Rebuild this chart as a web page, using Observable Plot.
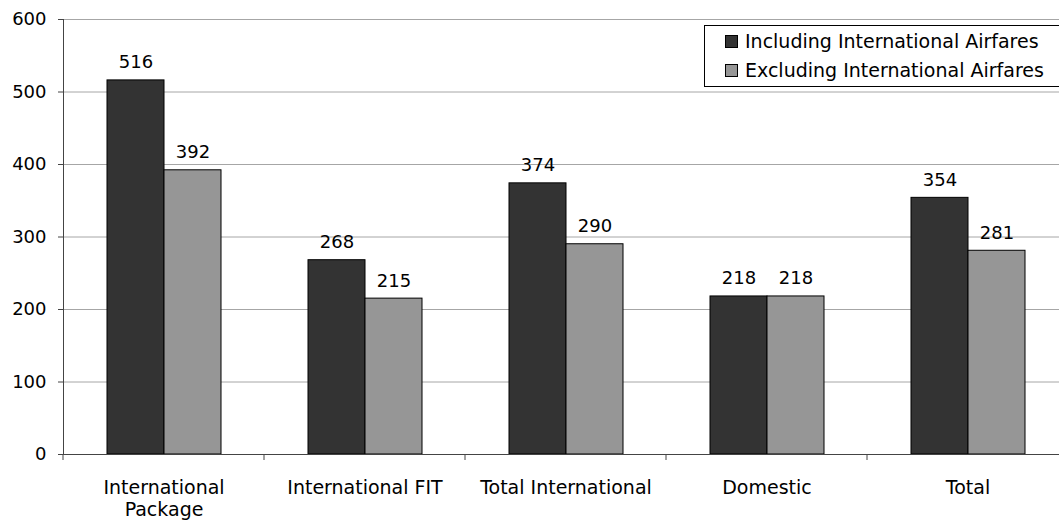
<!DOCTYPE html>
<html>
<head>
<meta charset="utf-8">
<script src="https://cdn.jsdelivr.net/npm/d3@7"></script>
<script src="https://cdn.jsdelivr.net/npm/@observablehq/plot@0.6"></script>
<style>
  body { margin: 0; background: #fff; font-family: "DejaVu Sans", Verdana, sans-serif; }
  #chart { position: relative; width: 1059px; height: 520px; overflow: hidden; }
  .legend {
    position: absolute; left: 704px; top: 25px; width: 380px; height: 60px;
    border: 1px solid #000; background: #fff; font-size: 19px; color: #000;
  }
  .legend .item { position: absolute; left: 20px; display: flex; align-items: center; white-space: nowrap; }
  .legend .swatch { width: 11px; height: 11px; border: 1px solid #000; margin-right: 7px; }
</style>
</head>
<body>
<div id="chart"></div>
<script>
// Average spend per visitor by market segment, with and without international airfares
const categories = ["International Package", "International FIT", "Total International", "Domestic", "Total"];
const seriesNames = ["Including International Airfares", "Excluding International Airfares"];
const including = [516, 268, 374, 218, 354];
const excluding = [392, 215, 290, 218, 281];
const yTicks = [0, 100, 200, 300, 400, 500, 600];
const seriesColors = ["#333333", "#969696"];

const rows = categories.flatMap((category, i) => [
  {category, series: seriesNames[0], value: including[i]},
  {category, series: seriesNames[1], value: excluding[i]}
]);

// Short ticks below the baseline at the edge of each category band
function bandEdgeTicks(index, scales, values, dimensions) {
  const y0 = scales.y(0);
  const g = d3.create("svg:g");
  g.append("line")
    .attr("x1", dimensions.marginLeft).attr("x2", dimensions.marginLeft)
    .attr("y1", y0).attr("y2", y0 + 6)
    .attr("stroke", "#444");
  return g.node();
}

const chart = Plot.plot({
  width: 1059,
  height: 520,
  marginTop: 19,
  marginBottom: 66,
  marginLeft: 62,
  marginRight: 0,
  style: {fontFamily: "'DejaVu Sans', Verdana, sans-serif", fontSize: "18px", color: "#000", background: "#fff"},
  fx: {domain: categories, range: [62, 1068], padding: 0, label: null, axis: null},
  x: {domain: seriesNames, paddingInner: 0, paddingOuter: 0.75, axis: null},
  y: {domain: [0, 600], label: null, axis: null},
  color: {domain: seriesNames, range: seriesColors},
  marks: [
    Plot.gridY(yTicks, {stroke: "#a6a6a6", strokeOpacity: 1}),
    Plot.barY(rows, {fx: "category", x: "series", y: "value", fill: "series", stroke: "#000", strokeWidth: 1}),
    Plot.text(rows, {fx: "category", x: "series", y: "value", text: d => String(d.value),
      lineAnchor: "bottom", dy: -12, fontSize: 18, fill: "#000"}),
    Plot.ruleY([0], {stroke: "#444"}),
    Plot.frame({anchor: "left", stroke: "#444", facetAnchor: "left"}),
    Plot.axisY(yTicks, {tickSize: 5, tickPadding: 12, stroke: "#444", fill: "#000", fontSize: 18}),
    Plot.axisFx({anchor: "bottom", tickSize: 0, tickPadding: 23, lineHeight: 1.2, fontSize: 19, label: null,
      tickFormat: d => d.replace(" Package", "\nPackage")}),
    bandEdgeTicks
  ]
});

const container = document.getElementById("chart");
container.appendChild(chart);

const legend = document.createElement("div");
legend.className = "legend";
seriesNames.forEach((name, i) => {
  const item = document.createElement("div");
  item.className = "item";
  item.style.top = (i === 0 ? 4 : 33) + "px";
  const sw = document.createElement("span");
  sw.className = "swatch";
  sw.style.background = seriesColors[i];
  const label = document.createElement("span");
  label.textContent = name;
  item.appendChild(sw);
  item.appendChild(label);
  legend.appendChild(item);
});
container.appendChild(legend);
</script>
</body>
</html>
